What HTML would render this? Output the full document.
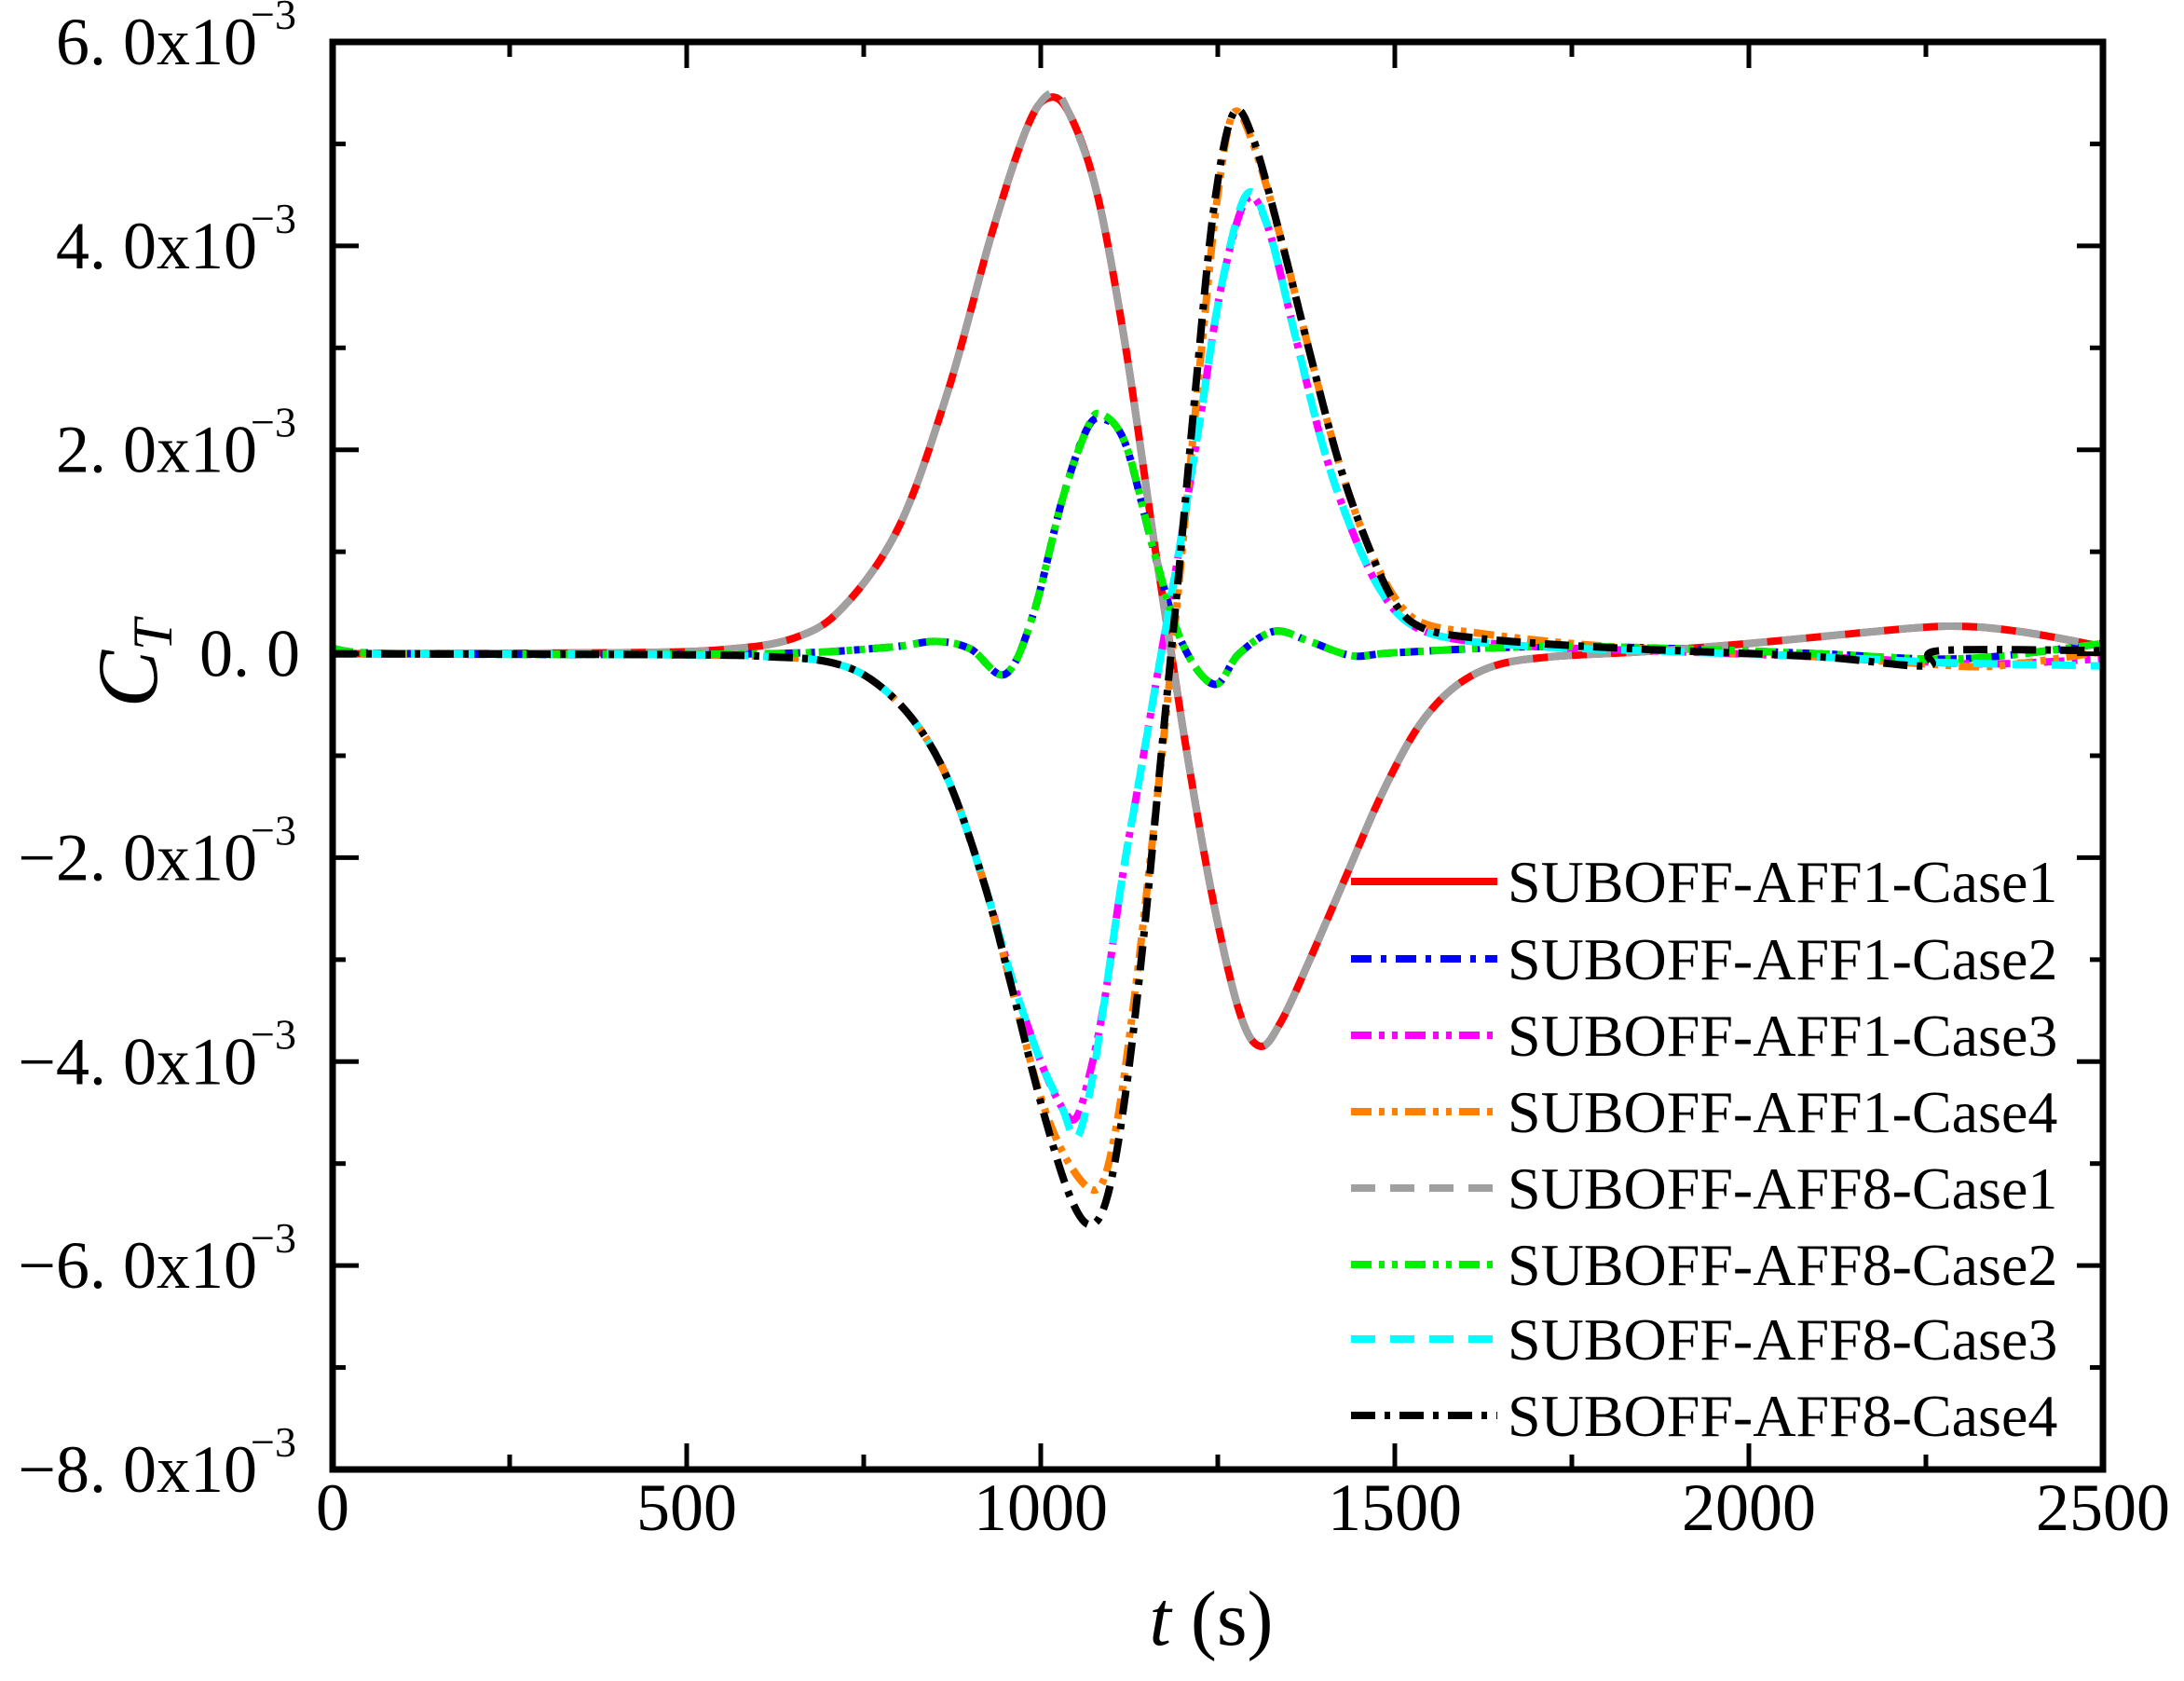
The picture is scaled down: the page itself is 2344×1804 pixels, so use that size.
<!DOCTYPE html>
<html><head><meta charset="utf-8">
<style>
html,body{margin:0;padding:0;background:#fff;}
svg{display:block;}
text{font-family:"Liberation Serif",serif;fill:#000;}
</style></head>
<body>
<svg id="s" width="2344" height="1804" viewBox="0 0 2344 1804" xmlns="http://www.w3.org/2000/svg">
<g id="curves"></g>
<g id="axes"></g>
<g id="leg"></g>
</svg>
<script>
const X0=357,X1=2257,Y6=45,Y8=1577;
const py=(1577-45)/14;
const X=t=>X0+(X1-X0)*t/2500;
const Y=v=>Y6+(6-v)*py;
const NS="http://www.w3.org/2000/svg";
function el(tag,attrs,parent,txt){const e=document.createElementNS(NS,tag);for(const k in attrs)e.setAttribute(k,attrs[k]);if(txt!==undefined)e.textContent=txt;parent.appendChild(e);return e;}
function path(pts){
  const p=pts.map(a=>[X(a[0]),Y(a[1])]);
  let d="M"+p[0][0].toFixed(1)+","+p[0][1].toFixed(1);
  for(let i=0;i<p.length-1;i++){
    const p0=p[Math.max(0,i-1)],p1=p[i],p2=p[i+1],p3=p[Math.min(p.length-1,i+2)];
    const c1=[p1[0]+(p2[0]-p0[0])/6,p1[1]+(p2[1]-p0[1])/6];
    const c2=[p2[0]-(p3[0]-p1[0])/6,p2[1]-(p3[1]-p1[1])/6];
    d+=" C"+c1.map(v=>v.toFixed(1))+" "+c2.map(v=>v.toFixed(1))+" "+p2.map(v=>v.toFixed(1));
  }
  return d;
}
const red=[[0,0],[400,0.01],[550,0.04],[650,0.15],[720,0.45],[800,1.25],[870,2.6],[930,4.1],[980,5.15],[1010,5.45],[1040,5.3],[1080,4.5],[1120,3.0],[1160,1.1],[1200,-0.7],[1240,-2.3],[1280,-3.5],[1310,-3.85],[1340,-3.6],[1380,-3.0],[1430,-2.2],[1480,-1.4],[1530,-0.75],[1580,-0.35],[1640,-0.12],[1720,-0.03],[1850,0.02],[2000,0.1],[2150,0.2],[2280,0.27],[2380,0.22],[2500,0.07]];
const gray=red.map(a=>[a[0],a[1]]);gray[9]=[1015,5.5];
const black=[[0,0],[500,-0.01],[620,-0.03],[700,-0.08],[760,-0.25],[820,-0.65],[870,-1.25],[920,-2.25],[960,-3.3],[1000,-4.4],[1040,-5.3],[1070,-5.6],[1095,-5.3],[1120,-4.3],[1145,-2.8],[1170,-1.0],[1195,0.8],[1220,2.7],[1245,4.4],[1272,5.3],[1300,5.05],[1340,4.05],[1380,2.95],[1420,1.9],[1460,1.1],[1500,0.5],[1540,0.25],[1620,0.15],[1750,0.08],[1900,0.03],[2100,-0.03],[2250,-0.12],[2270,0.03],[2500,0.03]];
const orange=[[0,0],[500,-0.01],[620,-0.03],[700,-0.08],[760,-0.25],[820,-0.65],[870,-1.25],[920,-2.25],[960,-3.3],[1000,-4.35],[1040,-5.0],[1080,-5.25],[1105,-4.7],[1130,-3.5],[1155,-2.0],[1180,-0.4],[1205,1.4],[1230,3.2],[1250,4.5],[1272,5.3],[1300,5.0],[1340,4.05],[1380,2.95],[1420,1.9],[1460,1.1],[1500,0.55],[1540,0.3],[1620,0.2],[1750,0.1],[1900,0.03],[2100,-0.03],[2250,-0.1],[2350,-0.12],[2500,0.02]];
function mc(minV,peakV,tailEnd){return [[0,0],[500,-0.01],[620,-0.03],[700,-0.08],[760,-0.25],[820,-0.65],[870,-1.25],[920,-2.25],[960,-3.2],[1000,-4.0],[1030,-4.45],[1050,minV],[1070,minV*0.9],[1090,-3.4],[1115,-2.2],[1140,-1.2],[1165,-0.2],[1195,1.0],[1225,2.3],[1255,3.6],[1290,peakV],[1320,4.2],[1360,3.1],[1400,2.0],[1440,1.2],[1480,0.62],[1520,0.3],[1580,0.15],[1700,0.07],[1900,0.02],[2100,-0.03],[2250,-0.08],[2350,-0.1],[2500,tailEnd]];}
const magenta=mc(-4.55,4.45,-0.05);
const cyan=mc(-4.75,4.5,-0.12);
function small(pk){return [[0,0.05],[100,0],[600,0],[780,0.06],[850,0.12],[900,0.05],[950,-0.2],[990,0.4],[1030,1.5],[1065,2.2],[pk,pk===1090?2.3:2.35],[1120,2.05],[1160,1.0],[1200,0.1],[1245,-0.3],[1280,0.0],[1330,0.22],[1380,0.12],[1440,-0.02],[1500,0.01],[1700,0.07],[1900,0.05],[2100,0.0],[2300,-0.05],[2500,0.1]];}
const blue=small(1090),green=small(1085);
const series=[
 [red,"#ff0000",""],
 [blue,"#0000ff","22 10 6 10"],
 [magenta,"#ff00ff","22 8 6 8 6 8"],
 [orange,"#ff8000","22 8 6 8 6 8"],
 [gray,"#a0a0a0","26 16"],
 [green,"#00ee00","22 8 6 8 6 8"],
 [cyan,"#00ffff","26 16"],
 [black,"#000000","26 10 6 10"]
];
const names=["SUBOFF-AFF1-Case1","SUBOFF-AFF1-Case2","SUBOFF-AFF1-Case3","SUBOFF-AFF1-Case4","SUBOFF-AFF8-Case1","SUBOFF-AFF8-Case2","SUBOFF-AFF8-Case3","SUBOFF-AFF8-Case4"];
const cg=document.getElementById("curves");
series.forEach(s=>{const a={d:path(s[0]),fill:"none",stroke:s[1],"stroke-width":8,"stroke-linejoin":"round"};if(s[2])a["stroke-dasharray"]=s[2];el("path",a,cg);});
const ag=document.getElementById("axes");
el("rect",{x:X0,y:Y6,width:X1-X0,height:Y8-Y6,fill:"none",stroke:"#000","stroke-width":7},ag);
for(let t=0;t<=2500;t+=250){const x=X(t),L=(t%500==0)?28:16;
 el("line",{x1:x,y1:Y8,x2:x,y2:Y8-L,stroke:"#000","stroke-width":5},ag);
 el("line",{x1:x,y1:Y6,x2:x,y2:Y6+L,stroke:"#000","stroke-width":5},ag);
 if(t%500==0)el("text",{x:x,y:1642,"font-size":72,"text-anchor":"middle"},ag,String(t));}
for(let v=-8;v<=6;v++){const y=Y(v),L=(v%2==0)?28:14;
 el("line",{x1:X0,y1:y,x2:X0+L,y2:y,stroke:"#000","stroke-width":5},ag);
 el("line",{x1:X1,y1:y,x2:X1-L,y2:y,stroke:"#000","stroke-width":5},ag);
 if(v%2==0){
  const lab=v==0?"0. 0":((v<0?"\u2212":"")+Math.abs(v)+". 0x10");
  el("text",{x:v==0?322:276,y:y+24,"font-size":72,"text-anchor":"end"},ag,lab);
  if(v!=0)el("text",{x:318,y:y-14,"font-size":46,"text-anchor":"end"},ag,"\u22123");
 }}
const xt=el("text",{x:1300,y:1765,"font-size":84,"text-anchor":"middle"},ag);
el("tspan",{"font-style":"italic"},xt,"t");el("tspan",{},xt," (s)");
const yt=el("text",{x:0,y:0,"font-size":92,transform:"translate(168,712) rotate(-90)","text-anchor":"middle"},ag);
el("tspan",{"font-style":"italic"},yt,"C");el("tspan",{"font-style":"italic","font-size":60,dy:16},yt,"T");
const lg=document.getElementById("leg");
const ys=[946,1029,1111,1193,1275,1357,1437,1519];
series.forEach((s,i)=>{const a={x1:1450,y1:ys[i],x2:1607,y2:ys[i],stroke:s[1],"stroke-width":8};if(s[2])a["stroke-dasharray"]=s[2];el("line",a,lg);
 el("text",{x:1618,y:ys[i]+22,"font-size":64},lg,names[i]);});
</script>
</body></html>
